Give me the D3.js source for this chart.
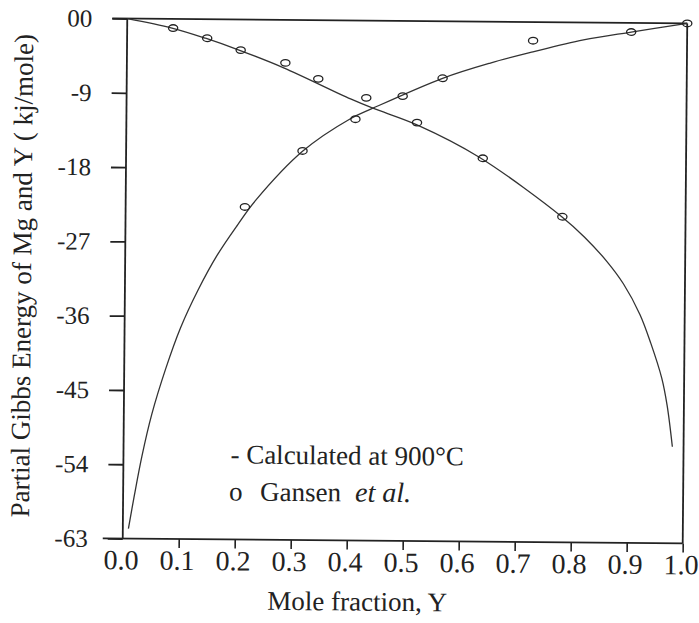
<!doctype html>
<html>
<head>
<script src="https://d3js.org/d3.v7.min.js"></script>
<style>
body { margin: 0; background: #fff; }
svg text { font-family: "Liberation Serif", "Times New Roman", serif; fill: #222; }
</style>
</head>
<body>
<script>
var width = 699, height = 623;

// calculated curves
var mgCurveX = [0, 0.08, 0.14, 0.20, 0.28, 0.40, 0.44, 0.52, 0.63, 0.78, 0.82, 0.86, 0.89, 0.92, 0.94, 0.96, 0.97, 0.98];
var mgCurveG = [0, -1.1, -2.3, -3.7, -5.8, -9.5, -10.6, -12.6, -16.4, -23.6, -26.0, -28.9, -31.6, -35.3, -38.8, -43.0, -46.3, -51.3];
var yCurveX = [0.01, 0.02, 0.033, 0.05, 0.074, 0.10, 0.13, 0.164, 0.20, 0.232, 0.315, 0.40, 0.44, 0.564, 0.649, 0.725, 0.815, 0.90, 1.0];
var yCurveG = [-61.8, -57.8, -53.0, -47.9, -42.4, -37.4, -32.9, -28.6, -24.9, -21.9, -15.9, -11.9, -10.6, -6.9, -5.0, -3.6, -2.1, -1.1, 0];

// Gansen et al. points
var mgPointX = [0.082, 0.143, 0.203, 0.283, 0.342, 0.428, 0.519, 0.637, 0.780];
var mgPointG = [-1.1, -2.3, -3.7, -5.2, -7.1, -9.35, -12.3, -16.55, -23.55];
var yPointX = [0.213, 0.315, 0.409, 0.493, 0.564, 0.725, 0.900, 1.0];
var yPointG = [-22.7, -15.85, -11.95, -9.1, -6.9, -2.25, -1.1, 0];

var xTicks = [0, 0.1, 0.2, 0.3, 0.4, 0.5, 0.6, 0.7, 0.8, 0.9, 1.0];
var yTicks = [0, -9, -18, -27, -36, -45, -54, -63];
var yTickLabels = ['00', '-9', '-18', '-27', '-36', '-45', '-54', '-63'];

var pLeft = 125, pRight = 685, pTop = 21, pBottom = 541;

var svg = d3.select('body').append('svg').attr('width', width).attr('height', height);
var g = svg.append('g').attr('transform', 'rotate(0.5,405,280)');

var x = d3.scaleLinear().domain([0, 1]).range([pLeft, pRight]);
var y = d3.scaleLinear().domain([0, -63]).range([pTop, pBottom]);

// y axis
var yAxis = d3.axisLeft(y).tickValues(yTicks).tickSize(15).tickPadding(20)
	.tickFormat(function(d, i){ return yTickLabels[i]; });
var yG = g.append('g').attr('transform', 'translate(' + pLeft + ',0)').call(yAxis);
yG.select('.domain').remove();
yG.selectAll('line').attr('stroke', '#222').attr('stroke-width', 1.8);
yG.selectAll('text').style('font-size', '25px').style('font-family', '"Liberation Serif", serif').attr('fill', '#222');

// x axis
var xAxis = d3.axisBottom(x).tickValues(xTicks).tickSize(9).tickPadding(2).tickFormat(d3.format('.1f'));
var xG = g.append('g').attr('transform', 'translate(0,' + pBottom + ')').call(xAxis);
xG.select('.domain').remove();
xG.selectAll('line').attr('stroke', '#222').attr('stroke-width', 1.6)
	.attr('opacity', function(d){ return d == 0 ? 0 : 1; });
xG.selectAll('text').style('font-size', '28px').style('font-family', '"Liberation Serif", serif')
	.attr('fill', '#222').attr('dx', '-2');

// frame
var frame = g.append('g').attr('stroke', '#222').attr('stroke-width', 1.8).attr('fill', 'none');
frame.append('line').attr('x1', pLeft - 15).attr('x2', pRight).attr('y1', pTop).attr('y2', pTop);
frame.append('line').attr('x1', pLeft - 20).attr('x2', pRight).attr('y1', pBottom).attr('y2', pBottom);
frame.append('line').attr('x1', pLeft).attr('x2', pLeft).attr('y1', pTop).attr('y2', pBottom);
frame.append('line').attr('x1', pRight).attr('x2', pRight).attr('y1', pTop).attr('y2', pBottom);

// curves
var line = d3.line().x(function(d){ return x(d[0]); }).y(function(d){ return y(d[1]); })
	.curve(d3.curveCatmullRom.alpha(0.5));
g.append('path').attr('d', line(d3.zip(mgCurveX, mgCurveG)))
	.attr('fill', 'none').attr('stroke', '#333').attr('stroke-width', 1.3);
g.append('path').attr('d', line(d3.zip(yCurveX, yCurveG)))
	.attr('fill', 'none').attr('stroke', '#333').attr('stroke-width', 1.3);

// points
var pts = d3.zip(mgPointX, mgPointG).concat(d3.zip(yPointX, yPointG));
g.append('g').selectAll('ellipse').data(pts).enter().append('ellipse')
	.attr('cx', function(d){ return x(d[0]); })
	.attr('cy', function(d){ return y(d[1]); })
	.attr('rx', 4.6).attr('ry', 3.3)
	.attr('fill', 'none').attr('stroke', '#222').attr('stroke-width', 1.3);

// legend
g.append('text').attr('x', 232).attr('y', 465).style('font-size', '27px').text('- Calculated at 900\u00b0C');
var leg2 = g.append('text').attr('y', 502).style('font-size', '27px');
leg2.append('tspan').attr('x', 231).text('o');
leg2.append('tspan').attr('x', 262).text('Gansen');
leg2.append('tspan').attr('x', 357).style('font-style', 'italic').style('font-size', '28px').text('et al.');

// axis titles
g.append('text').attr('x', 360).attr('y', 611).attr('text-anchor', 'middle')
	.style('font-size', '27px').text('Mole fraction, Y');
g.append('text').attr('transform', 'translate(31,279) rotate(-90)').attr('text-anchor', 'middle')
	.style('font-size', '27px').text('Partial Gibbs Energy of Mg and Y ( kj/mole)');
</script>
</body>
</html>
